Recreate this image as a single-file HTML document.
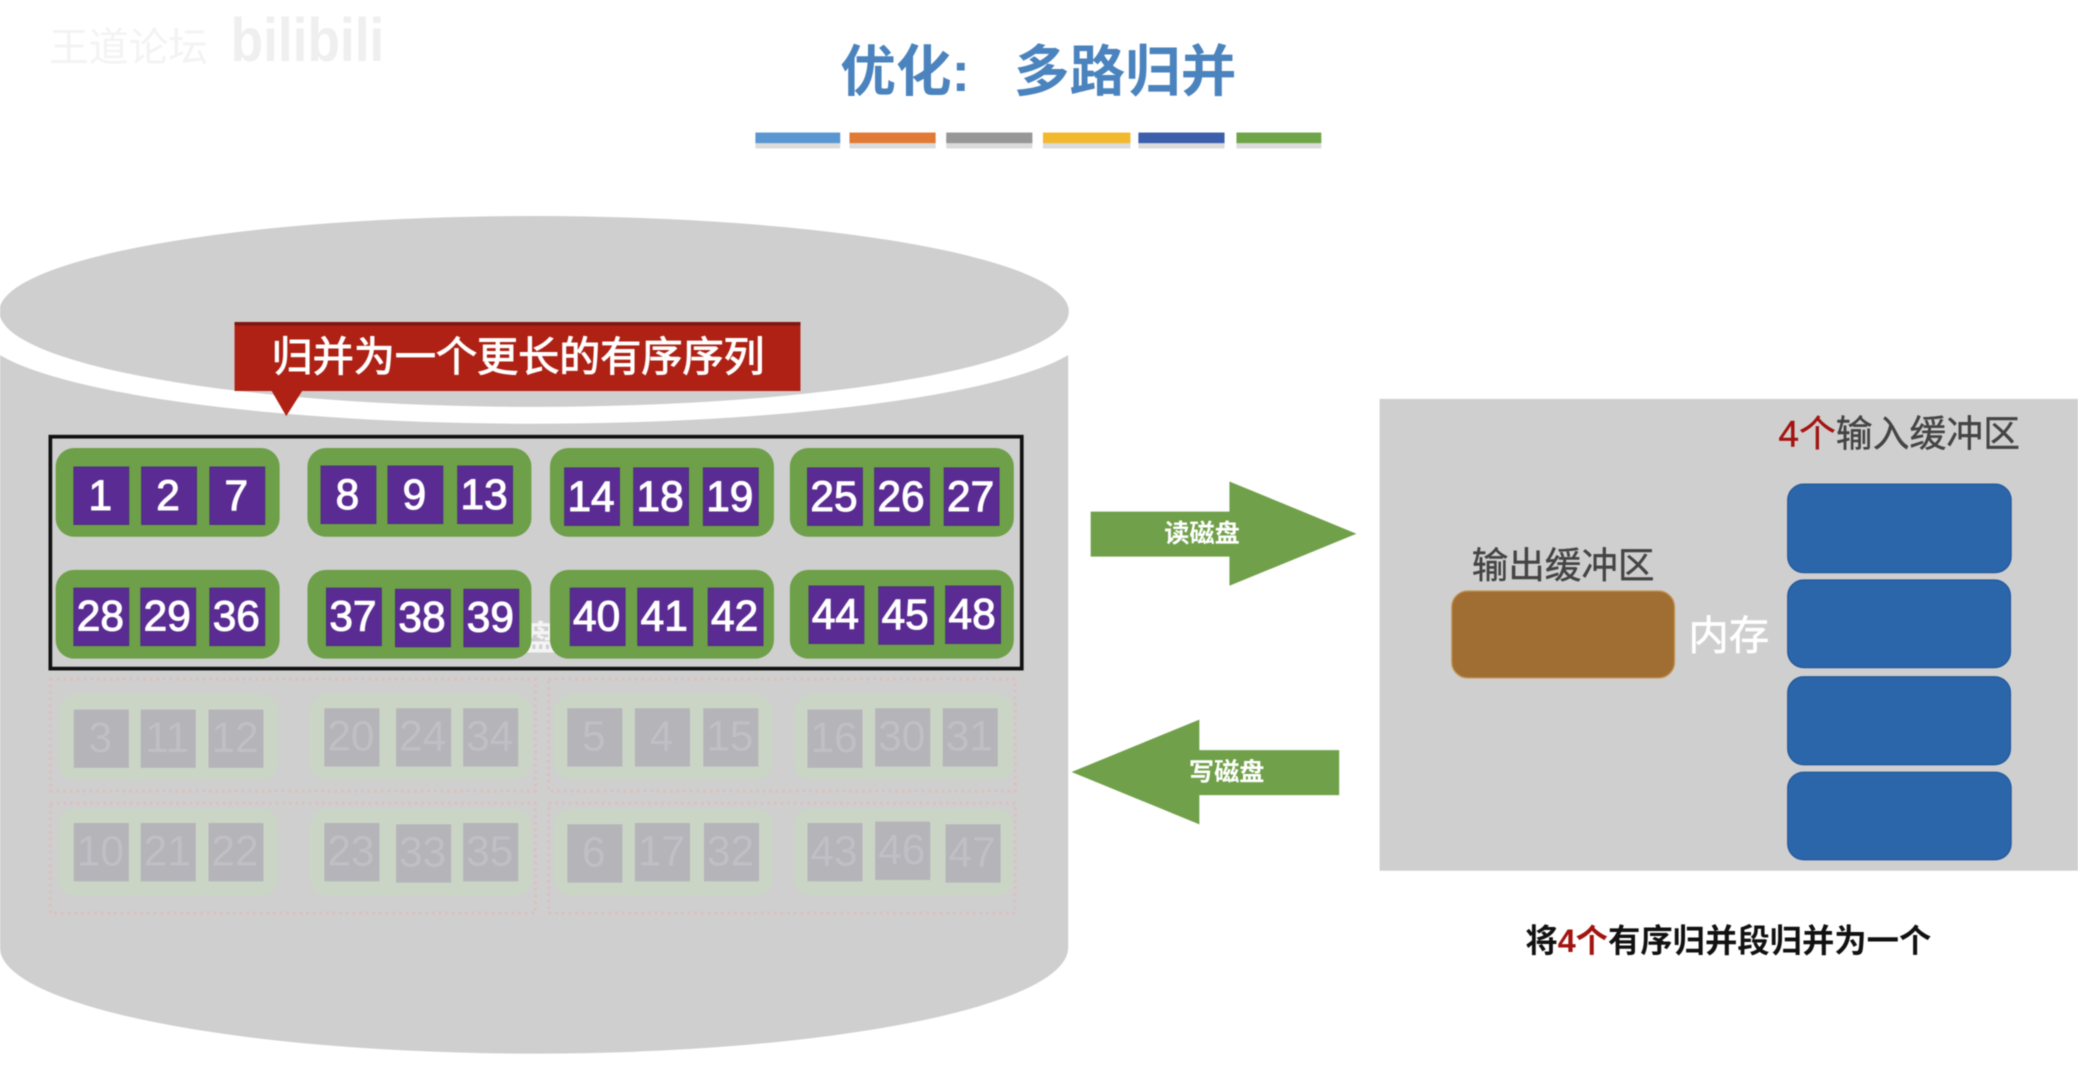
<!DOCTYPE html>
<html lang="zh">
<head>
<meta charset="utf-8">
<title>优化:多路归并</title>
<style>
html,body{margin:0;padding:0;background:#fff;width:2078px;height:1067px;overflow:hidden}
svg{display:block;position:absolute;left:0;top:0;filter:blur(.6px)}
text{font-family:"Liberation Sans","Noto Sans CJK SC",sans-serif}
.p{width:41.5px;height:43.5px;fill:#5a2b92;stroke:#46307a;stroke-width:.6}
.n{font-size:32px;fill:#fff;text-anchor:middle;stroke:#fff;stroke-width:.8}
.fp{width:41.5px;height:44px;fill:#b5b4b9}
.fn{font-size:32px;fill:#bfbfc4;text-anchor:middle}
.g{fill:#6da048}
.fg{fill:#cad5c6}
.fr{fill:none;stroke:#dcc0c0;stroke-width:2.2;stroke-dasharray:2 3}
.b{fill:#2b66ab;stroke:#25589a;stroke-width:1}
</style>
</head>
<body>
<svg width="2078" height="1067" viewBox="0 0 1568 805.1" xmlns="http://www.w3.org/2000/svg">
<rect x="0" y="0" width="1568" height="806" fill="#fff"/>

<!-- watermark -->
<text x="37" y="46" font-size="30" fill="#f3f3f3">王道论坛</text>
<text x="174" y="46" font-size="46" font-weight="bold" fill="#efefef" textLength="116" lengthAdjust="spacingAndGlyphs">bilibili</text>

<!-- title -->
<text x="634" y="68.5" font-size="42" font-weight="bold" fill="#4a83bd">优化:</text>
<text x="765" y="68.5" font-size="42" font-weight="bold" fill="#4a83bd">多路归并</text>

<!-- colour bars -->
<rect x="570" y="105" width="64" height="7" fill="#ccc" opacity=".7"/>
<rect x="641" y="105" width="65" height="7" fill="#ccc" opacity=".7"/>
<rect x="714" y="105" width="65" height="7" fill="#ccc" opacity=".7"/>
<rect x="787" y="105" width="66" height="7" fill="#ccc" opacity=".7"/>
<rect x="859" y="105" width="65" height="7" fill="#ccc" opacity=".7"/>
<rect x="933" y="105" width="64" height="7" fill="#ccc" opacity=".7"/>
<rect x="570" y="100" width="64" height="8" fill="#5a97d1"/>
<rect x="641" y="100" width="65" height="8" fill="#e07a35"/>
<rect x="714" y="100" width="65" height="8" fill="#979797"/>
<rect x="787" y="100" width="66" height="8" fill="#f2b92e"/>
<rect x="859" y="100" width="65" height="8" fill="#3c5fac"/>
<rect x="933" y="100" width="64" height="8" fill="#6ea548"/>

<!-- disk cylinder -->
<path d="M0,268 A420,72 0 0 0 806,268 L806,715 A403,80 0 0 1 0,715 Z" fill="#cfcfcf"/>
<ellipse cx="403" cy="235" rx="403.5" ry="72" fill="#cfcfcf"/>

<!-- callout -->
<path d="M177,243 H604 V295 H228 L216,314 L205,295 H177 Z" fill="#ae2114"/>
<rect x="177" y="243" width="427" height="2.5" fill="#7d1710"/>
<text x="205" y="280" font-size="31" fill="#fff" stroke="#fff" stroke-width=".8">归并为一个更长的有序序列</text>

<!-- hidden label behind -->
<text x="395" y="491" font-size="26" font-weight="bold" fill="#f4f4f4">盘</text>

<!-- faint dotted frames -->
<rect class="fr" x="38" y="512.5" width="366" height="84.5"/>
<rect class="fr" x="414" y="512.5" width="352" height="84.5"/>
<rect class="fr" x="38" y="606" width="366" height="83"/>
<rect class="fr" x="414" y="606" width="352" height="83"/>

<!-- faint groups -->
<rect class="fg" x="44" y="523.5" width="166" height="65" rx="13"/>
<rect class="fg" x="234" y="523.5" width="167" height="65" rx="13"/>
<rect class="fg" x="418" y="523.5" width="165" height="65" rx="13"/>
<rect class="fg" x="599" y="523.5" width="166" height="65" rx="13"/>
<rect class="fg" x="44" y="610" width="166" height="66" rx="13"/>
<rect class="fg" x="234" y="610" width="167" height="66" rx="13"/>
<rect class="fg" x="418" y="610" width="165" height="66" rx="13"/>
<rect class="fg" x="599" y="610" width="166" height="66" rx="13"/>

<!-- faint boxes row 3 -->
<g transform="translate(55.7 535.4)"><rect class="fp"/><text class="fn" x="20" y="32">3</text></g>
<g transform="translate(106.2 535.4)"><rect class="fp"/><text class="fn" x="20" y="32">11</text></g>
<g transform="translate(157.3 535.4)"><rect class="fp"/><text class="fn" x="20" y="32">12</text></g>
<g transform="translate(244.8 534.4)"><rect class="fp"/><text class="fn" x="20" y="32">20</text></g>
<g transform="translate(298.9 534.4)"><rect class="fp"/><text class="fn" x="20" y="32">24</text></g>
<g transform="translate(349.5 534.4)"><rect class="fp"/><text class="fn" x="20" y="32">34</text></g>
<g transform="translate(428.1 534.4)"><rect class="fp"/><text class="fn" x="20" y="32">5</text></g>
<g transform="translate(479.1 534.4)"><rect class="fp"/><text class="fn" x="20" y="32">4</text></g>
<g transform="translate(530.7 534.4)"><rect class="fp"/><text class="fn" x="20" y="32">15</text></g>
<g transform="translate(609.3 535.4)"><rect class="fp"/><text class="fn" x="20" y="32">16</text></g>
<g transform="translate(660.4 534.4)"><rect class="fp"/><text class="fn" x="20" y="32">30</text></g>
<g transform="translate(711.4 534.4)"><rect class="fp"/><text class="fn" x="20" y="32">31</text></g>

<!-- faint boxes row 4 -->
<g transform="translate(55.7 621)"><rect class="fp"/><text class="fn" x="20" y="32">10</text></g>
<g transform="translate(106.2 621)"><rect class="fp"/><text class="fn" x="20" y="32">21</text></g>
<g transform="translate(157.3 621)"><rect class="fp"/><text class="fn" x="20" y="32">22</text></g>
<g transform="translate(244.8 621)"><rect class="fp"/><text class="fn" x="20" y="32">23</text></g>
<g transform="translate(298.9 622)"><rect class="fp"/><text class="fn" x="20" y="32">33</text></g>
<g transform="translate(349.5 621)"><rect class="fp"/><text class="fn" x="20" y="32">35</text></g>
<g transform="translate(428.1 622)"><rect class="fp"/><text class="fn" x="20" y="32">6</text></g>
<g transform="translate(479.1 621)"><rect class="fp"/><text class="fn" x="20" y="32">17</text></g>
<g transform="translate(531.2 621)"><rect class="fp"/><text class="fn" x="20" y="32">32</text></g>
<g transform="translate(609.3 621)"><rect class="fp"/><text class="fn" x="20" y="32">43</text></g>
<g transform="translate(660.4 620)"><rect class="fp"/><text class="fn" x="20" y="32">46</text></g>
<g transform="translate(713.5 622)"><rect class="fp"/><text class="fn" x="20" y="32">47</text></g>

<!-- green groups -->
<rect class="g" x="42" y="338" width="169" height="67" rx="14"/>
<rect class="g" x="232" y="338" width="169" height="67" rx="14"/>
<rect class="g" x="415" y="338" width="169" height="67" rx="14"/>
<rect class="g" x="596" y="338" width="169" height="67" rx="14"/>
<rect class="g" x="42" y="430" width="169" height="67" rx="14"/>
<rect class="g" x="232" y="430" width="169" height="67" rx="14"/>
<rect class="g" x="415" y="430" width="169" height="67" rx="14"/>
<rect class="g" x="596" y="430" width="169" height="67" rx="14"/>

<!-- black frame -->
<rect x="38" y="329.5" width="733" height="175" fill="none" stroke="#111" stroke-width="2.8"/>

<!-- row 1 -->
<g transform="translate(55.7 352.3)"><rect class="p"/><text class="n" x="20" y="32.5">1</text></g>
<g transform="translate(106.8 352.3)"><rect class="p"/><text class="n" x="20" y="32.5">2</text></g>
<g transform="translate(158.3 352.3)"><rect class="p"/><text class="n" x="20" y="32.5">7</text></g>
<g transform="translate(242.2 351.6)"><rect class="p"/><text class="n" x="20" y="32.5">8</text></g>
<g transform="translate(292.7 351.6)"><rect class="p"/><text class="n" x="20" y="32.5">9</text></g>
<g transform="translate(345.3 351.6)"><rect class="p"/><text class="n" x="20" y="32.5">13</text></g>
<g transform="translate(426 353)"><rect class="p"/><text class="n" x="20" y="32.5">14</text></g>
<g transform="translate(478.1 353)"><rect class="p"/><text class="n" x="20" y="32.5">18</text></g>
<g transform="translate(530.7 353)"><rect class="p"/><text class="n" x="20" y="32.5">19</text></g>
<g transform="translate(609.3 353)"><rect class="p"/><text class="n" x="20" y="32.5">25</text></g>
<g transform="translate(659.9 353)"><rect class="p"/><text class="n" x="20" y="32.5">26</text></g>
<g transform="translate(712.4 353)"><rect class="p"/><text class="n" x="20" y="32.5">27</text></g>

<!-- row 2 -->
<g transform="translate(55.7 443.7)"><rect class="p"/><text class="n" x="20" y="32">28</text></g>
<g transform="translate(106.2 443.7)"><rect class="p"/><text class="n" x="20" y="32">29</text></g>
<g transform="translate(158.3 443.7)"><rect class="p"/><text class="n" x="20" y="32">36</text></g>
<g transform="translate(246.3 443.7)"><rect class="p"/><text class="n" x="20" y="32">37</text></g>
<g transform="translate(298.4 444.6)"><rect class="p"/><text class="n" x="20" y="32">38</text></g>
<g transform="translate(350 444.6)"><rect class="p"/><text class="n" x="20" y="32">39</text></g>
<g transform="translate(430.2 443.7)"><rect class="p"/><text class="n" x="20" y="32">40</text></g>
<g transform="translate(481.2 443.7)"><rect class="p"/><text class="n" x="20" y="32">41</text></g>
<g transform="translate(534.3 443.7)"><rect class="p"/><text class="n" x="20" y="32">42</text></g>
<g transform="translate(610.4 442.1)"><rect class="p"/><text class="n" x="20" y="32">44</text></g>
<g transform="translate(663 442.7)"><rect class="p"/><text class="n" x="20" y="32">45</text></g>
<g transform="translate(713.5 442.1)"><rect class="p"/><text class="n" x="20" y="32">48</text></g>

<!-- arrows -->
<path d="M823,386 H927.7 V363.3 L1023.5,402.7 L927.7,442 V420 H823 Z" fill="#70a14a"/>
<text x="907" y="409" font-size="19" font-weight="bold" fill="#fff" text-anchor="middle">读磁盘</text>
<path d="M1010.5,566 H905 V543 L808.6,582.5 L905,622 V600 H1010.5 Z" fill="#70a14a"/>
<text x="925.6" y="589" font-size="19" font-weight="bold" fill="#fff" text-anchor="middle">写磁盘</text>

<!-- memory panel -->
<rect x="1041" y="301" width="527" height="356" fill="#cfcfcf"/>
<text x="1342" y="337" font-size="27.8" fill="#444" stroke="#444" stroke-width=".3"><tspan fill="#a3130f" stroke="#a3130f">4个</tspan>输入缓冲区</text>
<rect class="b" x="1349" y="365.3" width="168.5" height="66.7" rx="12"/>
<rect class="b" x="1349" y="437.7" width="168" height="66" rx="12"/>
<rect class="b" x="1349" y="510.7" width="168" height="66.3" rx="12"/>
<rect class="b" x="1349" y="582.7" width="168.5" height="66" rx="12"/>
<text x="1110.5" y="436" font-size="27.6" fill="#444" stroke="#444" stroke-width=".3">输出缓冲区</text>
<rect x="1095.5" y="446" width="168" height="65.5" rx="12" fill="#a06e32" stroke="#c2924f" stroke-width="1"/>
<text x="1274" y="490" font-size="30.5" fill="#fff" stroke="#fff" stroke-width=".5">内存</text>

<!-- caption -->
<text x="1151" y="718.5" font-size="24.4" font-weight="bold" fill="#111">将<tspan fill="#a3130f">4个</tspan>有序归并段归并为一个</text>
</svg>
</body>
</html>
